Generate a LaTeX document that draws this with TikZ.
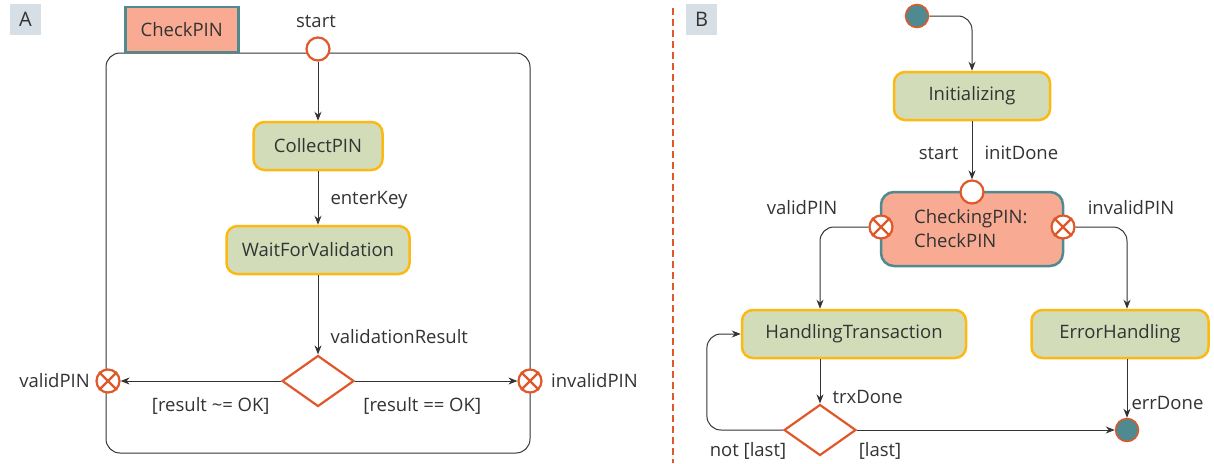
\documentclass[tikz,border=0pt]{standalone}
\usepackage{fontspec}
\setmainfont{Open Sans}
\usetikzlibrary{arrows.meta,shapes.geometric,calc}
\definecolor{stgreen}{HTML}{D3DCB9}
\definecolor{styellow}{HTML}{FDB913}
\definecolor{storange}{HTML}{E0582A}
\definecolor{stsalmon}{HTML}{F8AA92}
\definecolor{stteal}{HTML}{4E8A8F}
\definecolor{stlabel}{HTML}{D6DEE6}
\definecolor{sttext}{HTML}{333333}
\tikzset{
  every node/.style={font=\fontsize{18.5}{22}\selectfont, text=sttext},
  statebox/.style={draw=styellow, fill=stgreen, line width=2.5pt, rounded corners=11pt, minimum height=48pt, inner sep=0pt},
  compbox/.style={draw=stteal, fill=stsalmon, line width=2.5pt, inner sep=0pt},
  entry/.style={circle, draw=storange, fill=white, line width=2.2pt, minimum size=23pt, inner sep=0pt},
  exitpt/.style={circle, draw=storange, fill=white, line width=2.2pt, minimum size=23pt, inner sep=0pt},
  choice/.style={diamond, draw=storange, fill=white, line width=2.2pt, minimum width=72pt, minimum height=51pt, inner sep=0pt, aspect=1.4},
  dot/.style={circle, draw=storange, fill=stteal, line width=1.5pt, minimum size=23pt, inner sep=0pt},
  panel/.style={fill=stlabel, minimum width=31pt, minimum height=31pt, inner sep=0pt, font=\fontsize{20}{22}\selectfont},
  arr/.style={draw=sttext, line width=1pt, -{Stealth[length=9pt,width=7pt]}},
  lbl/.style={inner sep=0pt},
}
\newcommand{\xmark}[1]{\draw[storange, line width=2.2pt] (#1.north west) -- (#1.south east) (#1.north east) -- (#1.south west);}
\begin{document}
\begin{tikzpicture}[x=1pt,y=-1pt]
\useasboundingbox (0,0) rectangle (1214,463);
% ---------- Panel A ----------
\node[panel] (pa) at (25.5,19.5) {A};
\node[draw=sttext, line width=1pt, rounded corners=14pt, minimum width=424pt, minimum height=400pt, inner sep=0pt] (cbox) at (318,253) {};
\node[compbox, minimum width=113pt, minimum height=45pt, anchor=south west] (tab) at (124,53) {CheckPIN};
\node[entry] (st) at (318,49) {};
\node[lbl] (stl) at (316,21) {start};
\node[statebox, minimum width=129pt] (cp) at (318,146) {CollectPIN};
\node[statebox, minimum width=183pt] (wv) at (318,250) {WaitForValidation};
\node[choice] (d1) at (318,381) {};
\node[exitpt] (vx) at (108,381) {};
\node[exitpt] (ix) at (530,381) {};
\xmark{vx}
\xmark{ix}
\node[lbl, anchor=east] (vxl) at (90,381) {validPIN};
\node[lbl, anchor=west] (ixl) at (551,381) {invalidPIN};
\draw[arr] (st) -- (cp);
\draw[arr] (cp) -- node[lbl, anchor=west, xshift=12pt, yshift=-2pt] {enterKey} (wv);
\draw[arr] (wv) -- node[lbl, anchor=west, xshift=12pt, pos=0.78] {validationResult} (d1);
\draw[arr] (d1) -- node[lbl, below=16pt, xshift=10pt] {[result \textasciitilde= OK]} (vx);
\draw[arr] (d1) -- node[lbl, below=16pt, xshift=-14pt] {[result == OK]} (ix);
% ---------- divider ----------
\coordinate (dv1) at (673,8);
\coordinate (dv2) at (673,463);
\draw[storange, line width=1.6pt, dash pattern=on 7pt off 4pt] (dv1) -- (dv2);
% ---------- Panel B ----------
\node[panel] (pb) at (701.5,19.5) {B};
\node[dot] (ini) at (917,16) {};
\node[statebox, minimum width=156pt] (in) at (972,96) {Initializing};
\node[compbox, rounded corners=13pt, minimum width=182pt, minimum height=74pt] (ck) at (972,229) {};
\node[lbl, align=left, anchor=west, font=\fontsize{18.5}{24}\selectfont] (ckl) at (914,229) {CheckingPIN:\\CheckPIN};
\node[entry] (st2) at (972,192) {};
\node[exitpt] (vx2) at (881,227) {};
\node[exitpt] (ix2) at (1063,227) {};
\xmark{vx2}
\xmark{ix2}
\node[lbl] (vx2l) at (802,208) {validPIN};
\node[lbl] (ix2l) at (1131,208) {invalidPIN};
\node[statebox, minimum width=224pt] (ht) at (854,334) {HandlingTransaction};
\node[statebox, minimum width=177pt] (eh) at (1120,334) {ErrorHandling};
\node[choice] (d2) at (820,430) {};
\node[dot] (fin) at (1127,430) {};
\draw[arr, rounded corners=14pt] (ini.east) -| (in.north);
\draw[arr] (in) -- node[lbl, anchor=east, xshift=-13pt, pos=0.55] {start} node[lbl, anchor=west, xshift=12pt, pos=0.55] {initDone} (st2);
\draw[arr, rounded corners=14pt] (vx2.west) -| (d2 |- ht.north);
\draw[arr, rounded corners=14pt] (ix2.east) -| (fin |- eh.north);
\draw[arr] (d2 |- ht.south) -- node[lbl, anchor=west, xshift=12pt, pos=0.85] {trxDone} (d2.north);
\draw[arr, rounded corners=14pt] (d2.west) -- ++(-76,0) |- (ht.west);
\draw[arr] (d2.east) -- (fin.west);
\draw[arr] (fin |- eh.south) -- node[lbl, anchor=west, xshift=4pt, pos=0.75] {errDone} (fin.north);
\node[lbl] (nl) at (748,451) {not [last]};
\node[lbl] (ll) at (880,451) {[last]};
\end{tikzpicture}
\end{document}
